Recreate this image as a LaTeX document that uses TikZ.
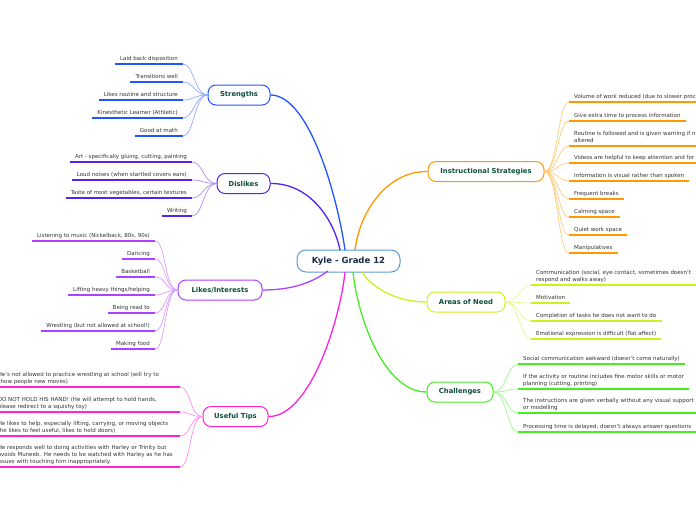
\documentclass[tikz,border=0pt]{standalone}
\usepackage{fontspec}
\setmainfont{DejaVu Sans}
\definecolor{cS}{HTML}{2255FF}
\definecolor{cD}{HTML}{5522EE}
\definecolor{cL}{HTML}{B040FF}
\definecolor{cT}{HTML}{FF22DD}
\definecolor{cI}{HTML}{FF9900}
\definecolor{cA}{HTML}{D0F020}
\definecolor{cC}{HTML}{44EE22}
\definecolor{cK}{HTML}{5B9BD5}
\definecolor{tx}{HTML}{0E4D3C}
\definecolor{kt}{HTML}{1B2A4A}
\definecolor{lt}{HTML}{333333}
\newcommand\lstrut{\rule[-1.4pt]{0pt}{1pt}}
\tikzset{
  branch/.style={draw=#1, line width=1pt, rounded corners=8pt, fill=white,
    font=\fontsize{6.8}{8}\selectfont\bfseries, text=tx, minimum height=20pt, inner xsep=0pt},
  centre/.style={draw=cK, line width=1pt, rounded corners=9pt, fill=white,
    font=\fontsize{8.5}{10}\selectfont\bfseries, text=kt, minimum height=22pt, minimum width=103pt},
  leaf/.style={font=\fontsize{5.5}{7}\selectfont, text=lt, inner xsep=5pt, inner ysep=1.6pt,
    align=left, execute at end node=\lstrut},
  ul/.style={line width=1.6pt, draw=#1},
  cv/.style={line width=0.7pt, draw=#1!50},
  mc/.style={line width=1.3pt, draw=#1}
}
\begin{document}
\begin{tikzpicture}[x=1pt,y=-1pt]
\useasboundingbox (0,0) rectangle (696,520);
\clip (0,0) rectangle (696,520);
\fill[white] (0,0) rectangle (696,520);

% central and branch nodes
\node[centre] (k) at (348.5,261) {Kyle - Grade 12};
\node[branch=cS, minimum width=62pt] (str) at (239,95) {Strengths};
\node[branch=cD, minimum width=53pt] (dis) at (243.5,183.5) {Dislikes};
\node[branch=cL, minimum width=84pt] (lik) at (220,290) {Likes/Interests};
\node[branch=cT, minimum width=65pt] (tip) at (235.5,416.5) {Useful Tips};
\node[branch=cI, minimum width=116pt] (ins) at (486,171.5) {Instructional Strategies};
\node[branch=cA, minimum width=78pt] (are) at (466,302) {Areas of Need};
\node[branch=cC, minimum width=66pt] (cha) at (460,392) {Challenges};

% attachment points on the central node
\coordinate (kD) at (340,250);
\coordinate (kS) at (345,250);
\coordinate (kI) at (355,250);
\coordinate (kL) at (328,271);
\coordinate (kT) at (345,272);
\coordinate (kC) at (353,272);
\coordinate (kA) at (362,272);

% main connectors
\draw[mc=cS] (str.east) .. controls (310,95) and (338,200) .. (kS);
\draw[mc=cD] (dis.east) .. controls (310,183) and (334,220) .. (kD);
\draw[mc=cL] (lik.east) .. controls (300,290) and (318,278) .. (kL);
\draw[mc=cT] (tip.east) .. controls (310,417) and (340,320) .. (kT);
\draw[mc=cI] (ins.west) .. controls (388,171) and (360,210) .. (kI);
\draw[mc=cA] (are.west) .. controls (395,302) and (370,286) .. (kA);
\draw[mc=cC] (cha.west) .. controls (385,392) and (358,320) .. (kC);

% Strengths leaves
\foreach \n/\y/\t in {1/64/{Laid back disposition}, 2/82/{Transitions well},
  3/100/{Likes routine and structure}, 4/118/{Kinesthetic Learner (Athletic)},
  5/136/{Good at math}}{
  \node[leaf, anchor=south east] (s\n) at (183,\y) {\t};
  \draw[ul=cS] (s\n.south west) -- (s\n.south east);
  \draw[cv=cS] (str.west) .. controls +(-13,0) and +(11,0) .. (s\n.south east);
}

% Dislikes leaves
\foreach \n/\y/\t in {1/162/{Art - specifically gluing, cutting, painting},
  2/180/{Loud noises (when startled covers ears)},
  3/198/{Taste of most vegetables, certain textures}, 4/216/{Writing}}{
  \node[leaf, anchor=south east] (d\n) at (192,\y) {\t};
  \draw[ul=cD] (d\n.south west) -- (d\n.south east);
  \draw[cv=cD] (dis.west) .. controls +(-13,0) and +(11,0) .. (d\n.south east);
}

% Likes leaves
\foreach \n/\y/\t in {1/241/{Listening to music (Nickelback, 80s, 90s)}, 2/259/{Dancing},
  3/277/{Basketball}, 4/295/{Lifting heavy things/helping}, 5/313/{Being read to},
  6/331/{Wrestling (but not allowed at school!)}, 7/349/{Making food}}{
  \node[leaf, anchor=south east] (l\n) at (155,\y) {\t};
  \draw[ul=cL] (l\n.south west) -- (l\n.south east);
  \draw[cv=cL] (lik.west) .. controls +(-13,0) and +(11,0) .. (l\n.south east);
}

% Useful Tips leaves
\foreach \n/\y/\t in {
  1/387/{He's not allowed to practice wrestling at school (will try to\\show people new moves)},
  2/412/{DO NOT HOLD HIS HAND! (He will attempt to hold hands,\\please redirect to a squishy toy)},
  3/436/{He likes to help, especially lifting, carrying, or moving objects\\(he likes to feel useful, likes to hold doors)},
  4/467/{He responds well to doing activities with Harley or Trinity but\\avoids Muneeb. He needs to be watched with Harley as he has\\issues with touching him inappropriately.}}{
  \node[leaf, anchor=south east, text width=177pt] (t\n) at (180,\y) {\t};
  \draw[ul=cT] (t\n.south west) -- (t\n.south east);
  \draw[cv=cT] (tip.west) .. controls +(-13,0) and +(11,0) .. (t\n.south east);
}

% Instructional Strategies leaves
\foreach \n/\y/\t in {1/102/{Volume of work reduced (due to slower processing)},
  2/121/{Give extra time to process information},
  3/146/{Routine is followed and is given warning if needs to be\\altered},
  4/163/{Videos are helpful to keep attention and for learning},
  5/181/{Information is visual rather than spoken}, 6/199/{Frequent breaks},
  7/217/{Calming space}, 8/235/{Quiet work space}, 9/253/{Manipulatives}}{
  \node[leaf, anchor=south west] (i\n) at (569,\y) {\t};
  \draw[ul=cI] (i\n.south west) -- (i\n.south east);
  \draw[cv=cI] (ins.east) .. controls +(13,0) and +(-11,0) .. (i\n.south west);
}

% Areas of Need leaves
\foreach \n/\y/\t in {
  1/285/{Communication (social, eye contact, sometimes doesn't\\respond and walks away)},
  2/303/{Motivation}, 3/321/{Completion of tasks he does not want to do},
  4/339/{Emotional expression is difficult (flat affect)}}{
  \node[leaf, anchor=south west] (a\n) at (531,\y) {\t};
  \draw[ul=cA] (a\n.south west) -- (a\n.south east);
  \draw[cv=cA] (are.east) .. controls +(13,0) and +(-11,0) .. (a\n.south west);
}

% Challenges leaves
\foreach \n/\y/\t in {
  1/364/{Social communication awkward (doesn't come naturally)},
  2/389/{If the activity or routine includes fine motor skills or motor\\planning (cutting, printing)},
  3/413/{The instructions are given verbally without any visual support\\or modelling},
  4/432/{Processing time is delayed, doesn't always answer questions}}{
  \node[leaf, anchor=south west] (c\n) at (518,\y) {\t};
  \draw[ul=cC] (c\n.south west) -- (c\n.south east);
  \draw[cv=cC] (cha.east) .. controls +(13,0) and +(-11,0) .. (c\n.south west);
}
\end{tikzpicture}
\end{document}
